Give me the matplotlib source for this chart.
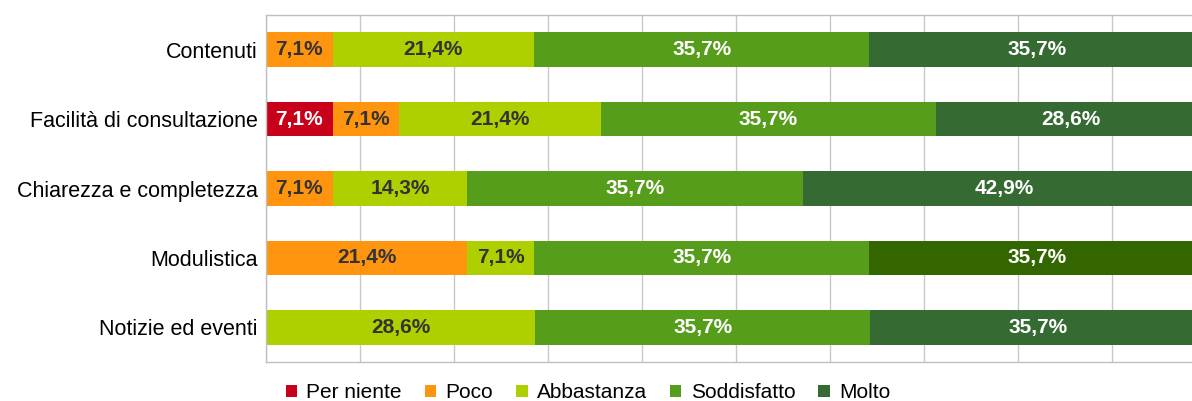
import numpy as np
import matplotlib.pyplot as plt
from matplotlib.patches import Patch

plt.rcParams['font.family'] = ['Liberation Sans', 'DejaVu Sans']

# Dati
categorie = ['Contenuti', 'Facilità di consultazione', 'Chiarezza e completezza',
             'Modulistica', 'Notizie ed eventi']
serie = ['Per niente', 'Poco', 'Abbastanza', 'Soddisfatto', 'Molto']
per_niente = [0.0, 7.1, 0.0, 0.0, 0.0]
poco = [7.1, 7.1, 7.1, 21.4, 0.0]
abbastanza = [21.4, 21.4, 14.3, 7.1, 28.6]
soddisfatto = [35.7, 35.7, 35.7, 35.7, 35.7]
molto = [35.7, 28.6, 42.9, 35.7, 35.7]

colori = ['#c9001a', '#ff950e', '#aecf00', '#579d1c', '#356a33']
col_testo = ['white', '#333333', '#333333', 'white', 'white']

fig = plt.figure(figsize=(11.92, 4.01), dpi=100)
# l'asse si estende oltre il bordo destro (immagine ritagliata)
ax = fig.add_axes([266 / 1192, 1 - 362 / 401, 940 / 1192, 347 / 401])

y = np.arange(len(categorie))
valori = [per_niente, poco, abbastanza, soddisfatto, molto]
sinistra = np.zeros(len(categorie))
for s, (nome, vals) in enumerate(zip(serie, valori)):
    vals = np.array(vals)
    cols = [colori[s]] * len(categorie)
    if nome == 'Molto':
        cols[3] = '#336600'  # Modulistica ha un verde diverso
    ax.barh(y, vals, left=sinistra, height=0.5, color=cols, zorder=2)
    for i, v in enumerate(vals):
        if v > 0:
            ax.text(sinistra[i] + v / 2, y[i], f'{v:.1f}%'.replace('.', ','),
                    ha='center', va='center', fontsize=15, fontweight='bold',
                    color=col_testo[s], zorder=3)
    sinistra += vals

ax.set_xlim(0, 100)
ax.set_ylim(len(categorie) - 0.5, -0.5)
ax.set_yticks(y)
ax.set_yticklabels(categorie, fontsize=15.5, color='black')
ax.set_xticks(np.arange(0, 101, 10))
ax.set_xticklabels([])
ax.tick_params(length=0, pad=6)
ax.grid(axis='x', color='#c8c8c8', linewidth=1, zorder=0)
for sp in ax.spines.values():
    sp.set_color('#c0c0c0')
    sp.set_linewidth(1)

handles = [Patch(facecolor=c, label=n) for c, n in zip(colori, serie)]
fig.legend(handles=handles, loc='center', bbox_to_anchor=(588 / 1192, 1 - 393 / 401),
           ncol=5, frameon=False, fontsize=15, handlelength=0.55, handleheight=0.55,
           handletextpad=0.45, columnspacing=1.1)

fig.savefig('out.png', dpi=100)
